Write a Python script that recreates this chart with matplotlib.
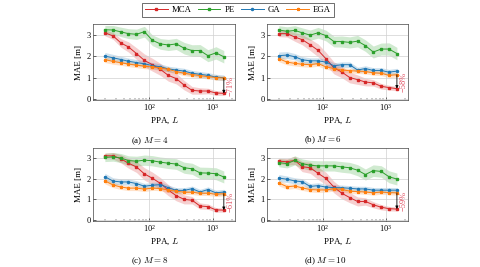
import numpy as np
import matplotlib
matplotlib.use("Agg")
import matplotlib.pyplot as plt
from matplotlib.ticker import LogLocator, NullFormatter

plt.rcParams['font.family'] = ['Liberation Serif', 'DejaVu Serif']
plt.rcParams['mathtext.fontset'] = 'cm'

# PPA values (x axis)
ppa = [20, 27, 36, 47, 63, 84, 112, 150, 200, 267, 356, 474, 632, 843, 1125, 1500]

methods = ["MCA", "PE", "GA", "EGA"]
colors = {"MCA": "#d62728", "PE": "#2ca02c", "GA": "#1f77b4", "EGA": "#ff7f0e"}
markers = {"MCA": "s", "PE": "s", "GA": "o", "EGA": "*"}

# M = 4
mca_m4 = [3.09, 2.94, 2.61, 2.43, 2.12, 1.80, 1.60, 1.38, 1.10, 0.95, 0.64, 0.40, 0.37, 0.37, 0.28, 0.26]
pe_m4 = [3.23, 3.22, 3.13, 3.05, 3.02, 3.14, 2.74, 2.57, 2.52, 2.57, 2.37, 2.26, 2.26, 2.02, 2.15, 1.97]
ga_m4 = [2.00, 1.92, 1.84, 1.76, 1.70, 1.64, 1.56, 1.50, 1.40, 1.35, 1.30, 1.20, 1.15, 1.10, 1.02, 0.99]
ega_m4 = [1.84, 1.75, 1.69, 1.63, 1.58, 1.53, 1.49, 1.45, 1.38, 1.28, 1.20, 1.14, 1.09, 1.04, 1.00, 0.97]

# M = 6
mca_m6 = [3.05, 3.05, 2.89, 2.77, 2.53, 2.27, 1.88, 1.45, 1.26, 1.00, 0.90, 0.79, 0.75, 0.59, 0.53, 0.48]
pe_m6 = [3.22, 3.16, 3.20, 3.09, 2.98, 3.09, 2.96, 2.68, 2.68, 2.64, 2.70, 2.49, 2.19, 2.33, 2.33, 2.12]
ga_m6 = [2.02, 2.05, 1.97, 1.83, 1.78, 1.78, 1.72, 1.55, 1.60, 1.60, 1.35, 1.42, 1.33, 1.33, 1.25, 1.30]
ega_m6 = [1.88, 1.72, 1.66, 1.62, 1.60, 1.65, 1.50, 1.42, 1.35, 1.32, 1.30, 1.28, 1.22, 1.20, 1.10, 1.13]

# M = 8
mca_m8 = [3.12, 3.12, 2.97, 2.76, 2.58, 2.24, 2.03, 1.78, 1.45, 1.18, 1.00, 0.96, 0.68, 0.65, 0.49, 0.48]
pe_m8 = [3.04, 3.07, 3.01, 2.89, 2.86, 2.91, 2.88, 2.81, 2.76, 2.72, 2.54, 2.49, 2.29, 2.28, 2.25, 2.09]
ga_m8 = [2.10, 1.89, 1.85, 1.85, 1.77, 1.64, 1.69, 1.72, 1.57, 1.44, 1.44, 1.52, 1.36, 1.48, 1.32, 1.36]
ega_m8 = [1.90, 1.70, 1.60, 1.55, 1.55, 1.50, 1.55, 1.53, 1.45, 1.40, 1.35, 1.35, 1.30, 1.30, 1.25, 1.28]

# M = 10
mca_m10 = [2.86, 2.83, 2.90, 2.59, 2.54, 2.27, 2.02, 1.60, 1.30, 1.09, 0.90, 0.90, 0.74, 0.62, 0.55, 0.53]
pe_m10 = [2.79, 2.74, 2.90, 2.74, 2.66, 2.63, 2.63, 2.63, 2.58, 2.54, 2.42, 2.21, 2.40, 2.36, 2.10, 1.99]
ga_m10 = [2.04, 1.98, 1.90, 1.86, 1.63, 1.67, 1.60, 1.57, 1.57, 1.54, 1.51, 1.51, 1.45, 1.45, 1.45, 1.45]
ega_m10 = [1.80, 1.62, 1.65, 1.56, 1.48, 1.46, 1.46, 1.52, 1.49, 1.40, 1.38, 1.36, 1.32, 1.36, 1.33, 1.32]

# half-width of shaded uncertainty bands
spread_mca = [0.14, 0.16, 0.20, 0.24, 0.27, 0.30, 0.30, 0.28, 0.27, 0.25, 0.22, 0.18, 0.15, 0.13, 0.11, 0.10]
spread_pe = [0.20, 0.21, 0.22, 0.23, 0.24, 0.25, 0.25, 0.25, 0.26, 0.26, 0.27, 0.27, 0.28, 0.28, 0.29, 0.29]
spread_ga = [0.17, 0.16, 0.15, 0.15, 0.14, 0.14, 0.14, 0.14, 0.13, 0.13, 0.13, 0.13, 0.13, 0.13, 0.13, 0.13]
spread_ega = [0.14, 0.13, 0.12, 0.12, 0.12, 0.12, 0.11, 0.11, 0.11, 0.11, 0.11, 0.11, 0.11, 0.11, 0.11, 0.11]

panel_titles = ["(a) $M = 4$", "(b) $M = 6$", "(c) $M = 8$", "(d) $M = 10$"]
reductions = ["\u221271%", "\u221258%", "\u221261%", "\u221259%"]

panels = [
    {"MCA": mca_m4, "PE": pe_m4, "GA": ga_m4, "EGA": ega_m4},
    {"MCA": mca_m6, "PE": pe_m6, "GA": ga_m6, "EGA": ega_m6},
    {"MCA": mca_m8, "PE": pe_m8, "GA": ga_m8, "EGA": ega_m8},
    {"MCA": mca_m10, "PE": pe_m10, "GA": ga_m10, "EGA": ega_m10},
]
spreads = {"MCA": spread_mca, "PE": spread_pe, "GA": spread_ga, "EGA": spread_ega}

W, H = 480, 267
fig = plt.figure(figsize=(W / 100, H / 100), dpi=100)

# axes rectangles in pixel units: left, top, right, bottom
rects = [(93, 24, 235, 100), (267, 24, 408, 100),
         (93, 148, 235, 221), (267, 148, 408, 221)]
title_pos = [(150, 141), (323, 140), (150, 261), (325, 261)]

handles = None
for i, (data, (l, t, r, b)) in enumerate(zip(panels, rects)):
    ax = fig.add_axes([l / W, 1 - b / H, (r - l) / W, (b - t) / H])
    x = np.array(ppa, dtype=float)
    hs = []
    for m in methods:
        y = np.array(data[m])
        s = np.array(spreads[m])
        ax.fill_between(x, y - s, y + s, color=colors[m], alpha=0.22, lw=0)
        h, = ax.plot(x, y, color=colors[m], marker=markers[m],
                     ms=1.5 if markers[m] != "*" else 2.2, lw=0.7, label=m)
        hs.append(h)
    handles = hs
    ax.set_xscale("log")
    ax.set_xlim(13, 2250)
    ax.set_ylim(-0.05, 3.5)
    ax.set_yticks([0, 1, 2, 3])
    ax.xaxis.set_major_locator(LogLocator(base=10, numticks=10))
    ax.xaxis.set_minor_locator(LogLocator(base=10, subs=np.arange(2, 10), numticks=10))
    ax.xaxis.set_minor_formatter(NullFormatter())
    ax.grid(True, which="major", color="#d0d0d0", lw=0.5)
    ax.tick_params(labelsize=6, width=0.4, length=2, pad=1.5, direction="in")
    ax.tick_params(which="minor", width=0.3, length=1.5, direction="in")
    for sp in ax.spines.values():
        sp.set_linewidth(0.5)
        sp.set_color("#444444")
    ax.set_xlabel("PPA, $L$", fontsize=6.5, labelpad=2)
    ax.set_ylabel("MAE [m]", fontsize=6.5, labelpad=3)

    # reduction annotation at the largest PPA
    y_top = min(data["GA"][-1], data["EGA"][-1])
    y_bot = data["MCA"][-1]
    ax.annotate("", xy=(x[-1], y_bot), xytext=(x[-1], y_top),
                arrowprops=dict(arrowstyle="-|>", color="black", lw=0.6,
                                mutation_scale=4, shrinkA=0, shrinkB=0))
    ax.text(x[-1] * 1.12, (y_top + y_bot) / 2, reductions[i], rotation=90,
            color="#e0475a", fontsize=6, ha="left", va="center")

    tx, ty = title_pos[i]
    fig.text(tx / W, 1 - ty / H, panel_titles[i], fontsize=6.5, ha="center", va="center")

leg = fig.legend(handles, methods, loc="center", bbox_to_anchor=(238 / W, 1 - 10 / H),
                 ncol=4, fontsize=6.3, frameon=True, fancybox=False, edgecolor="black",
                 handlelength=2.6, handletextpad=0.45, columnspacing=0.7,
                 borderpad=0.3)
leg.get_frame().set_linewidth(0.5)

fig.savefig("out.png", dpi=100)
